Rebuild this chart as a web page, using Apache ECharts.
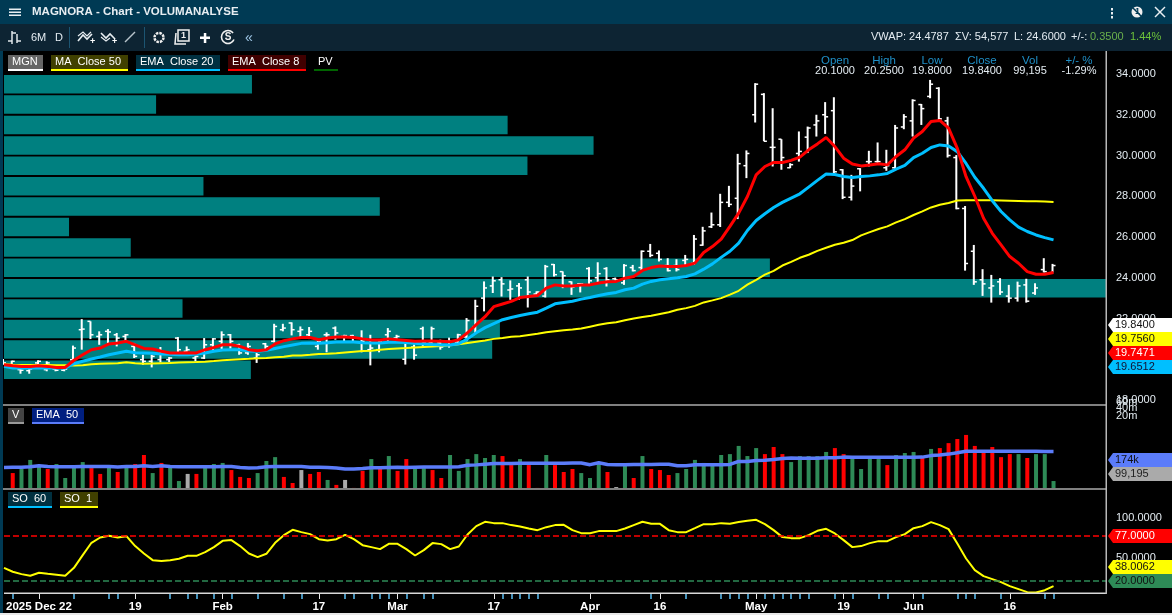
<!DOCTYPE html>
<html><head><meta charset="utf-8"><style>html,body{margin:0;padding:0;background:#000;overflow:hidden}#c{width:1172px;height:615px}</style>
<script src="https://cdn.jsdelivr.net/npm/echarts@6/dist/echarts.min.js"></script></head><body><div id="c"></div>
<script>
const tickIndex=[4,15,25,36,45,56,67,75,86,96,104,115];
const tickLabels=['2025 Dec 22','19','Feb','17','Mar','17','Apr','16','May','19','Jun','16'];
const minorTicks=[1,8,12,13,19,21,22,24,26,29,32,34,39,40,42,43,44,46,48,49,57,58,59,60,61,74,78,82,83,84,85,87,88,89,90,91,92,95,97,100,101,105,109,110,111,114,119,120];
const opens=[19.90,19.73,19.49,19.44,19.82,19.49,19.52,19.46,19.98,21.45,21.86,21.12,21.37,21.20,21.12,20.63,19.98,19.90,19.98,19.98,21.04,20.39,20.06,20.06,20.71,20.88,21.20,20.71,20.31,20.06,20.76,20.88,21.45,21.78,21.37,21.20,20.63,21.20,21.53,21.12,21.16,21.04,20.47,20.47,21.20,21.04,
20.0,20.6,21.5,20.8,20.8,20.7,20.85,21.1,21.6,23.0,23.6,23.9,23.4,23.6,23.9,23.2,23.1,24.65,24.3,23.8,23.7,24.45,24.0,24.45,23.95,23.75,24.5,24.5,25.3,25.2,24.6,24.6,24.85,24.7,25.6,26.5,26.6,27.7,27.9,29.5,32.0,33.0,30.4,30.8,29.4,30.1,30.9,31.5,32.0,32.2,29.3,27.95,29.35,29.7,29.7,29.4,29.4,31.4,31.7,32.5,32.9,33.3,31.7,29.9,27.4,25.3,23.9,23.5,23.8,23.1,23.0,23.65,23.25,24.4,24.25];
const highs=[20.01,19.93,19.57,19.57,19.95,19.90,19.57,19.65,20.67,21.97,21.86,21.37,21.48,21.29,21.24,20.80,20.22,20.22,20.60,20.11,21.09,20.63,20.17,21.04,21.04,21.37,21.24,20.76,20.80,20.31,20.80,21.74,21.74,21.81,21.61,21.58,20.96,21.32,21.61,21.20,21.20,21.42,21.20,20.96,21.53,21.20,
20.96,20.72,21.6,21.6,20.96,21.06,21.25,22.02,22.92,23.82,24.06,24.03,23.87,23.74,24.06,23.33,24.63,24.67,24.31,23.82,23.74,24.52,24.76,24.52,24.01,24.67,24.63,25.34,25.66,25.34,24.96,24.91,25.12,26.1,26.5,27.2,28.12,28.51,30.08,30.25,33.55,33.06,32.32,30.8,29.62,31.18,31.42,32.0,32.62,32.86,29.33,29.05,29.38,30.23,30.64,30.28,31.5,32.03,32.76,32.53,33.71,33.35,31.9,30.02,27.52,25.61,24.42,24.14,23.98,23.65,23.81,23.95,23.73,24.96,24.68];
const lows=[19.73,19.65,19.29,19.29,19.57,19.41,19.41,19.41,19.95,20.47,20.99,20.71,20.80,20.63,20.80,20.06,19.73,19.60,19.85,19.86,20.31,20.22,19.90,20.01,20.39,20.47,20.52,20.22,20.22,19.82,20.39,20.83,21.37,21.17,21.04,20.99,20.47,20.34,20.96,20.80,20.80,20.34,19.70,20.34,20.88,20.80,
19.74,19.98,20.62,20.72,20.47,20.57,20.72,20.88,21.28,22.35,23.25,23.08,22.92,22.92,22.54,23.16,23.03,24.06,23.49,23.16,23.28,23.65,23.77,23.57,23.87,23.65,24.31,24.36,25.01,24.8,24.31,24.31,24.55,24.63,25.57,26.44,26.49,27.47,26.88,28.89,31.62,30.7,29.46,29.3,29.38,29.7,30.12,30.93,31.06,29.13,27.86,27.79,28.24,29.46,29.62,29.25,29.3,31.29,30.93,31.5,32.81,31.67,29.9,27.36,24.35,23.65,23.11,22.78,23.16,22.78,22.83,22.78,23.16,24.26,24.26];
const closes=[19.82,19.90,19.46,19.52,19.90,19.82,19.46,19.52,20.55,21.48,21.20,21.20,21.34,21.04,21.20,20.14,19.90,20.14,20.39,20.06,20.47,20.47,20.14,20.71,21.0,21.20,20.88,20.31,20.63,20.22,20.63,21.61,21.53,21.45,21.45,21.37,20.88,21.20,21.29,21.16,21.04,20.88,20.55,20.88,21.37,21.12,
20.8,20.2,20.8,21.5,20.6,20.9,21.2,21.9,22.6,23.5,23.85,23.7,23.45,23.5,23.3,23.3,24.55,24.15,24.1,23.55,23.7,23.85,24.2,23.9,23.9,24.6,24.35,25.3,25.1,24.9,24.35,24.4,24.9,25.9,26.3,26.6,27.7,27.6,29.6,30.1,33.5,30.7,30.4,29.9,29.55,30.2,31.35,31.7,31.9,29.2,27.95,28.5,29.0,29.7,29.7,29.5,31.35,31.9,32.7,32.3,33.5,31.8,30.0,27.4,24.7,23.8,23.7,23.6,23.3,23.0,23.6,22.85,23.5,24.3,24.6];
const ema8=[19.73,19.68,19.65,19.65,19.68,19.65,19.6,19.6,19.95,20.22,20.47,20.55,20.75,20.8,20.88,20.71,20.53,20.5,20.39,20.31,20.31,20.32,20.31,20.47,20.58,20.71,20.71,20.63,20.47,20.42,20.47,20.75,20.91,21.0,21.07,21.07,20.96,21.04,21.09,21.09,21.07,21.0,20.94,20.94,21.0,20.96,
20.92,20.88,20.9,20.9,20.88,20.86,20.96,21.3,21.7,22.09,22.58,22.71,22.84,23.03,23.08,23.13,23.49,23.65,23.6,23.6,23.64,23.65,23.74,23.8,23.82,23.98,24.06,24.36,24.5,24.58,24.55,24.55,24.6,24.72,25.24,25.53,25.9,26.52,27.17,27.99,29.05,29.46,29.66,29.66,29.76,29.92,30.28,30.57,30.88,30.44,29.87,29.58,29.49,29.53,29.59,29.54,29.95,30.28,30.85,31.18,31.67,31.72,31.34,30.35,28.96,28.0,26.92,26.18,25.61,25.04,24.71,24.3,24.17,24.17,24.26];
const ema20=[19.65,19.57,19.57,19.57,19.57,19.57,19.57,19.57,19.78,19.9,20.01,20.11,20.22,20.31,20.39,20.32,20.31,20.29,20.26,20.24,20.22,20.22,20.26,20.31,20.39,20.45,20.47,20.47,20.4,20.39,20.44,20.53,20.62,20.7,20.78,20.8,20.78,20.81,20.85,20.85,20.85,20.81,20.8,20.8,20.83,20.83,
20.82,20.78,20.75,20.72,20.7,20.7,20.76,21.0,21.3,21.55,21.75,21.94,22.05,22.15,22.23,22.31,22.51,22.72,22.79,22.85,22.95,23.03,23.13,23.21,23.28,23.41,23.49,23.69,23.82,23.9,23.95,24.0,24.06,24.19,24.42,24.68,25.0,25.3,25.7,26.32,26.81,27.14,27.45,27.7,27.91,28.12,28.45,28.78,29.09,29.07,28.97,28.92,28.97,29.0,29.05,29.12,29.33,29.51,29.9,30.11,30.39,30.52,30.47,30.19,29.61,28.93,28.39,27.78,27.25,26.84,26.48,26.27,26.1,25.97,25.86];
const ma50=[19.75,19.73,19.72,19.72,19.72,19.72,19.71,19.70,19.69,19.70,19.75,19.78,19.79,19.80,19.85,19.80,19.78,19.79,19.80,19.81,19.84,19.85,19.86,19.88,19.91,19.95,19.98,20.0,20.02,20.05,20.06,20.1,20.12,20.18,20.19,20.22,20.26,20.27,20.29,20.33,20.37,20.40,20.42,20.47,20.50,20.53,
20.55,20.58,20.6,20.62,20.65,20.69,20.73,20.8,20.86,20.92,21.0,21.04,21.1,21.13,21.19,21.25,21.32,21.37,21.42,21.46,21.51,21.6,21.69,21.77,21.82,21.91,22.0,22.07,22.13,22.22,22.31,22.43,22.51,22.62,22.79,22.89,23.0,23.17,23.36,23.66,23.9,24.15,24.34,24.6,24.78,24.98,25.13,25.32,25.47,25.62,25.72,25.85,26.08,26.24,26.39,26.52,26.72,26.88,27.08,27.26,27.45,27.58,27.67,27.79,27.8,27.8,27.8,27.8,27.79,27.78,27.77,27.76,27.75,27.74,27.72];
const volume=[null,74,93,135,111,93,116,51,111,125,97,70,111,79,111,116,158,74,121,111,37,70,70,102,116,121,88,56,51,74,130,148,56,28,88,70,79,42,19,42,5,84,139,93,153,84,
139,97,97,88,51,158,84,139,162,144,158,153,111,139,111,5,158,111,79,93,74,51,125,79,9,111,51,153,93,88,65,74,93,135,121,111,158,162,200,153,190,162,195,162,125,153,153,153,172,190,162,144,93,144,139,111,158,167,172,144,186,190,213,232,251,200,176,195,148,162,162,144,162,162,37];
const volumeDir=['n','r','g','g','g','r','g','g','g','g','r','r','g','r','g','r','r','g','r','g','g','n','r','g','g','g','r','r','r','g','g','g','r','r','n','r','r','g','r','n','r','r','g','r','g','r',
'r','g','g','r','r','g','g','g','g','g','g','r','r','g','r','r','g','r','r','r','g','g','g','r','n','g','r','g','r','r','r','g','g','g','g','g','g','g','g','g','g','r','r','r','g','g','g','g','g','r','r','g','g','g','g','r','g','g','g','r','g','r','r','r','r','r','r','r','r','r','g','r','g','g','g'];
const volumeEma=[100,101,101,103,108,105,103,103,103,105,105,104,104,102,104,105,108,105,108,105,103,103,103,103,103,104,104,100,98,99,103,105,105,105,105,101,101,100,97,93,93,95,99,99,100,101,
100,101,102,102,102,102,103,110,112,115,118,118,118,119,120,120,120,120,120,121,121,113,122,114,113,113,114,114,114,115,115,108,108,113,113,113,113,114,128,128,132,133,137,142,144,143,143,143,145,145,148,147,147,147,147,147,147,147,147,148,155,158,162,168,175,175,175,175,175,175,175,175,175,174,174];
const stoch=[36.9,31.9,28.9,26.8,30.6,29.3,28.1,26.8,36.9,53,68.6,75.3,77.4,75.3,77,64.4,55,46.6,45.4,46.6,48.3,52.1,52.1,56.8,63.1,71.1,72,64.4,55,50.4,54.7,68.6,78.3,85,82.1,79.6,73.2,71.5,73.2,78.7,73.2,65.6,63.1,60.6,67.3,67.3,
60.6,52.5,59.3,68.2,66.9,60.6,63.9,79.1,89.7,95.2,93.5,93.5,91,89.3,86.7,84.6,88.4,91,91.4,84.6,80.8,80.8,83.4,83.4,83.4,86.7,91,95.2,92.6,92.6,84.6,82.1,82.1,87.1,92.2,92.2,93.5,92.6,94.8,96.4,97.7,92.2,84.6,75.8,74.5,74.5,78.3,83.8,86.3,80.4,72,63.1,64.4,68.2,70.7,70.7,75.8,79.6,87.1,89.7,94.8,91,85.9,67.7,48.7,34,26.4,22.6,18.8,13.7,9.9,6.1,5.7,8.6,13.7];
const profile=[22.5,13.8,45.7,53.5,47.5,18.1,34.1,5.9,11.5,69.5,100,16.2,45.0,44.3,22.4];
const soLevels=[77,20];

const FONT='"Liberation Sans"';
const TXT='#e4ecf2';
const cats=Array.from({length:127},(_,i)=>'d'+i);
const labelAt={};tickIndex.forEach((t,k)=>labelAt[t]=tickLabels[k]);
const chrome=[];
const rect=(x,y,w,h,fill,z)=>chrome.push({type:'rect',shape:{x,y,width:w,height:h},style:{fill},z:z||50,silent:true});
const text=(x,y,t,fill,o)=>chrome.push({type:'text',x,y,z:(o&&o.z)||60,silent:true,style:Object.assign({text:t,fill,font:((o&&o.bold)?'bold ':'')+((o&&o.size)||11)+'px '+FONT,align:(o&&o.align)||'left',verticalAlign:'middle'},{})});
const poly=(pts,stroke,w)=>chrome.push({type:'polyline',shape:{points:pts},style:{stroke,lineWidth:w||1.5,fill:null},z:60,silent:true});
const legendTag=(x,w,y,t,bg,line,col)=>{rect(x,y,w,15,bg);rect(x,y+14,w,2,line,55);text(x+4,y+7,t,col||'#fff',{size:11});};
const endTag=(y,t,bg,col)=>{chrome.push({type:'polygon',shape:{points:[[1108,y],[1113,y-7],[1172,y-7],[1172,y+7],[1113,y+7]]},style:{fill:bg},z:70,silent:true});text(1115,y,t,col,{size:11,z:71});};

// frame
rect(0,0,1172,24,'#003a54');rect(0,24,1172,27,'#0d2433');rect(0,51,3,562,'#003a54');rect(0,613,1172,2,'#e8e8e8');
rect(3,404,1103,2,'#808080');rect(3,488,1103,2,'#808080');rect(4,592.5,1102,1.5,'#d8d8d8');rect(1105.5,51,1.5,543,'#b8b8b8');
// title bar
[9,12,15].forEach(y=>rect(9,y-.5,12,1.5,'#e8eef2'));
text(32,12,'MAGNORA - Chart - VOLUMANALYSE','#e8eef2',{bold:true,size:11.5});
[8,12,16].forEach(y=>rect(1111,y,2,2.5,'#e8eef2'));
chrome.push({type:'circle',shape:{cx:1137,cy:12,r:5.5},style:{fill:'#f0f0f0'},z:60,silent:true});
poly([[1131,6],[1143,18]],'#003a54',1.5);
text(1137.5,12,'1','#003a54',{bold:true,size:9,align:'center',z:61});
poly([[1155,7],[1165,17]],'#e8eef2',1.5);poly([[1165,7],[1155,17]],'#e8eef2',1.5);
// toolbar
poly([[12,31],[12,44]],'#dfe6ea',1.5);poly([[8,41],[12,41]],'#dfe6ea',1.5);poly([[12,33],[16,33]],'#dfe6ea',1.5);poly([[17,34],[17,43]],'#dfe6ea',1.5);poly([[17,41],[21,41]],'#dfe6ea',1.5);
text(31,37.5,'6M',TXT,{size:11});text(55,37.5,'D',TXT,{size:11});
rect(69,27,1,21,'#1c5572');rect(144,27,1,21,'#1c5572');
poly([[78,41],[83,35],[87,39],[92,34]],'#e8eef2',1.6);poly([[78,36],[83,32],[87,36],[91,32]],'#e8eef2',1.2);text(90,42,'+','#fff',{size:9,bold:true});
poly([[101,33],[106,38],[110,34],[115,39]],'#e8eef2',1.6);poly([[101,37],[106,41],[110,38]],'#e8eef2',1.2);text(112,42,'+','#fff',{size:9,bold:true});
poly([[125,42],[135,32]],'#b8c4cc',1.5);
chrome.push({type:'circle',shape:{cx:159,cy:37.5,r:4.5},style:{fill:null,stroke:'#f0f0f0',lineWidth:2.5,lineDash:[2.5,1]},z:60,silent:true});
chrome.push({type:'rect',shape:{x:178,y:30,width:11,height:11},style:{fill:null,stroke:'#f0f0f0',lineWidth:1.5},z:60,silent:true});
poly([[176,33],[175,44],[186,44]],'#f0f0f0',1.5);text(183.5,35.5,'1','#f0f0f0',{size:9,bold:true,align:'center'});
rect(200,36.5,10,2.5,'#fff');rect(203.8,33,2.5,10,'#fff');
chrome.push({type:'arc',shape:{cx:228,cy:37,r:6.5,startAngle:0.4,endAngle:5.6},style:{stroke:'#f0f0f0',lineWidth:1.6,fill:null},z:60,silent:true});
text(228,37.5,'S','#f0f0f0',{size:10,bold:true,align:'center'});
text(249,38,'«','#9cc4e4',{size:14,align:'center'});
text(871,37,'VWAP: 24.4787',TXT,{size:11});text(955,37,'ΣV: 54,577',TXT,{size:11});text(1014,37,'L: 24.6000',TXT,{size:11});text(1071,37,'+/-:',TXT,{size:11});
text(1090,37,'0.3500','#6ab04c',{size:11});text(1130,37,'1.44%','#6cc13a',{size:11});
// legends
legendTag(8,35,55,'MGN','#666','#fff');legendTag(51,77,55,'MA  Close 50','#404000','#ffff00');legendTag(136,84,55,'EMA  Close 20','#003040','#00bfff');legendTag(228,78,55,'EMA  Close 8','#400000','#ff0000');legendTag(314,24,55,'PV','#000','#006400');
legendTag(8,16,408,'V','#444','#999');legendTag(32,52,408,'EMA  50','#001f80','#5b7cfa');
legendTag(8,44,492,'SO  60','#003040','#00bfff');legendTag(60,38,492,'SO  1','#404000','#ffff00');
// info
const heads=[[835,'Open','20.1000'],[884,'High','20.2500'],[932,'Low','19.8000'],[982,'Close','19.8400'],[1030,'Vol','99,195'],[1079,'+/- %','-1.29%']];
heads.forEach(h=>{text(h[0],60.5,h[1],'#1f90c8',{size:11.5,align:'center'});text(h[0],70.5,h[2],TXT,{size:11,align:'center'});});
// volume labels
text(1116,408,'40m',TXT,{size:11});text(1116,402,'60m',TXT,{size:11});text(1116,416,'20m',TXT,{size:11});
// end tags
endTag(325,'19.8400','#ffffff','#111');endTag(339,'19.7560','#ffff00','#111');endTag(353,'19.7471','#ff0000','#fff');endTag(367,'19.6512','#00bfff','#113');
endTag(460,'174k','#5b7cfa','#111');endTag(474,'99,195','#aaaaaa','#222');
endTag(536,'77.0000','#ff0000','#fff');endTag(567,'38.0062','#ffff00','#111');endTag(581,'20.0000','#2e8b57','#111');

const catAxis=(g,extra)=>Object.assign({type:'category',gridIndex:g,data:cats,boundaryGap:false,show:false,position:'bottom'},extra||{});
const option={
 animation:false,backgroundColor:'#000',
 textStyle:{fontFamily:FONT},
 grid:[
  {left:4,width:1102,top:74,height:326},
  {left:4,width:1102,top:405,height:84},
  {left:4,width:1102,top:518,height:75},
  {left:4,width:1102,top:74,height:306}
 ],
 xAxis:[
  catAxis(0),catAxis(1),
  catAxis(2,{show:true,axisLine:{show:false},
    axisTick:{show:true,length:6,lineStyle:{color:'#e8e8e8',width:1},interval:(i)=>labelAt[i]!==undefined},
    axisLabel:{show:true,margin:8,color:'#fff',fontWeight:'bold',fontSize:11.5,fontFamily:FONT,hideOverlap:false,interval:(i)=>labelAt[i]!==undefined,formatter:(v)=>labelAt[+v.slice(1)]||''}}),
  catAxis(2,{show:true,axisLine:{show:false},axisLabel:{show:false},axisTick:{show:true,length:6,lineStyle:{color:'#5cc0f5',width:1.5},interval:(i)=>minorTicks.includes(i)}}),
  {type:'value',gridIndex:3,min:0,max:100,show:false}
 ],
 yAxis:[
  {type:'value',gridIndex:0,position:'right',min:18,max:34,interval:2,axisLine:{show:false},axisTick:{show:false},splitLine:{show:false},
   axisLabel:{color:TXT,fontSize:11,margin:10,fontFamily:FONT,formatter:v=>v.toFixed(4)}},
  {type:'value',gridIndex:1,min:0,max:390,show:false},
  {type:'value',gridIndex:2,position:'right',min:5,max:100,axisLine:{show:false},axisTick:{show:false},splitLine:{show:false},
   axisLabel:{color:TXT,fontSize:11,margin:10,fontFamily:FONT,customValues:[50,100],formatter:v=>v.toFixed(4)}},
  {type:'category',gridIndex:3,inverse:true,show:false,data:profile.map((_,i)=>'row'+i)}
 ],
 graphic:{elements:chrome},
 series:[
  {type:'bar',name:'PV',xAxisIndex:4,yAxisIndex:3,data:profile,barWidth:18.5,itemStyle:{color:'#008080'},z:1,silent:true},
  {type:'custom',name:'MGN',xAxisIndex:0,yAxisIndex:0,z:2,clip:false,encode:{x:0,y:[1,2,3,4]},
   data:opens.map((o,i)=>[i,o,highs[i],lows[i],closes[i]]),
   renderItem:(p,api)=>{
     const i=api.value(0),O=api.coord([i,api.value(1)]),H=api.coord([i,api.value(2)]),L=api.coord([i,api.value(3)]),C=api.coord([i,api.value(4)]);
     const x=H[0]-1,st={stroke:'#fff',lineWidth:2};
     return {type:'group',children:[
       {type:'line',shape:{x1:x,y1:H[1],x2:x,y2:L[1]},style:st},
       {type:'line',shape:{x1:x-3,y1:O[1],x2:x,y2:O[1]},style:{stroke:'#fff',lineWidth:1.5}},
       {type:'line',shape:{x1:x,y1:C[1],x2:x+3,y2:C[1]},style:{stroke:'#fff',lineWidth:1.5}}]};
   }},
  {type:'line',name:'MA Close 50',xAxisIndex:0,yAxisIndex:0,data:ma50,showSymbol:false,z:3,lineStyle:{color:'#ffff00',width:2}},
  {type:'line',name:'EMA Close 20',xAxisIndex:0,yAxisIndex:0,data:ema20,showSymbol:false,z:4,lineStyle:{color:'#00bfff',width:3}},
  {type:'line',name:'EMA Close 8',xAxisIndex:0,yAxisIndex:0,data:ema8,showSymbol:false,z:5,lineStyle:{color:'#ff0000',width:3}},
  {type:'bar',name:'V',xAxisIndex:1,yAxisIndex:1,data:volume,barWidth:4,z:2,itemStyle:{color:p=>({g:'#2e8b57',r:'#ff0000',n:'#aaaaaa'})[volumeDir[p.dataIndex]]}},
  {type:'line',name:'EMA 50',xAxisIndex:1,yAxisIndex:1,data:volumeEma,showSymbol:false,z:3,lineStyle:{color:'#5b7cfa',width:3.5}},
  {type:'line',name:'SO 1',xAxisIndex:2,yAxisIndex:2,data:stoch,showSymbol:false,z:3,lineStyle:{color:'#ffff00',width:2},
   markLine:{silent:true,symbol:'none',label:{show:false},data:[
     {yAxis:soLevels[0],lineStyle:{color:'#ff0000',type:[6,3],width:1.6}},
     {yAxis:soLevels[1],lineStyle:{color:'#2e8b57',type:[6,3],width:1.6}}]}},
  {type:'line',xAxisIndex:3,yAxisIndex:2,data:[],silent:true}
 ]
};
echarts.init(document.getElementById('c'),null,{renderer:'canvas'}).setOption(option);
</script></body></html>
